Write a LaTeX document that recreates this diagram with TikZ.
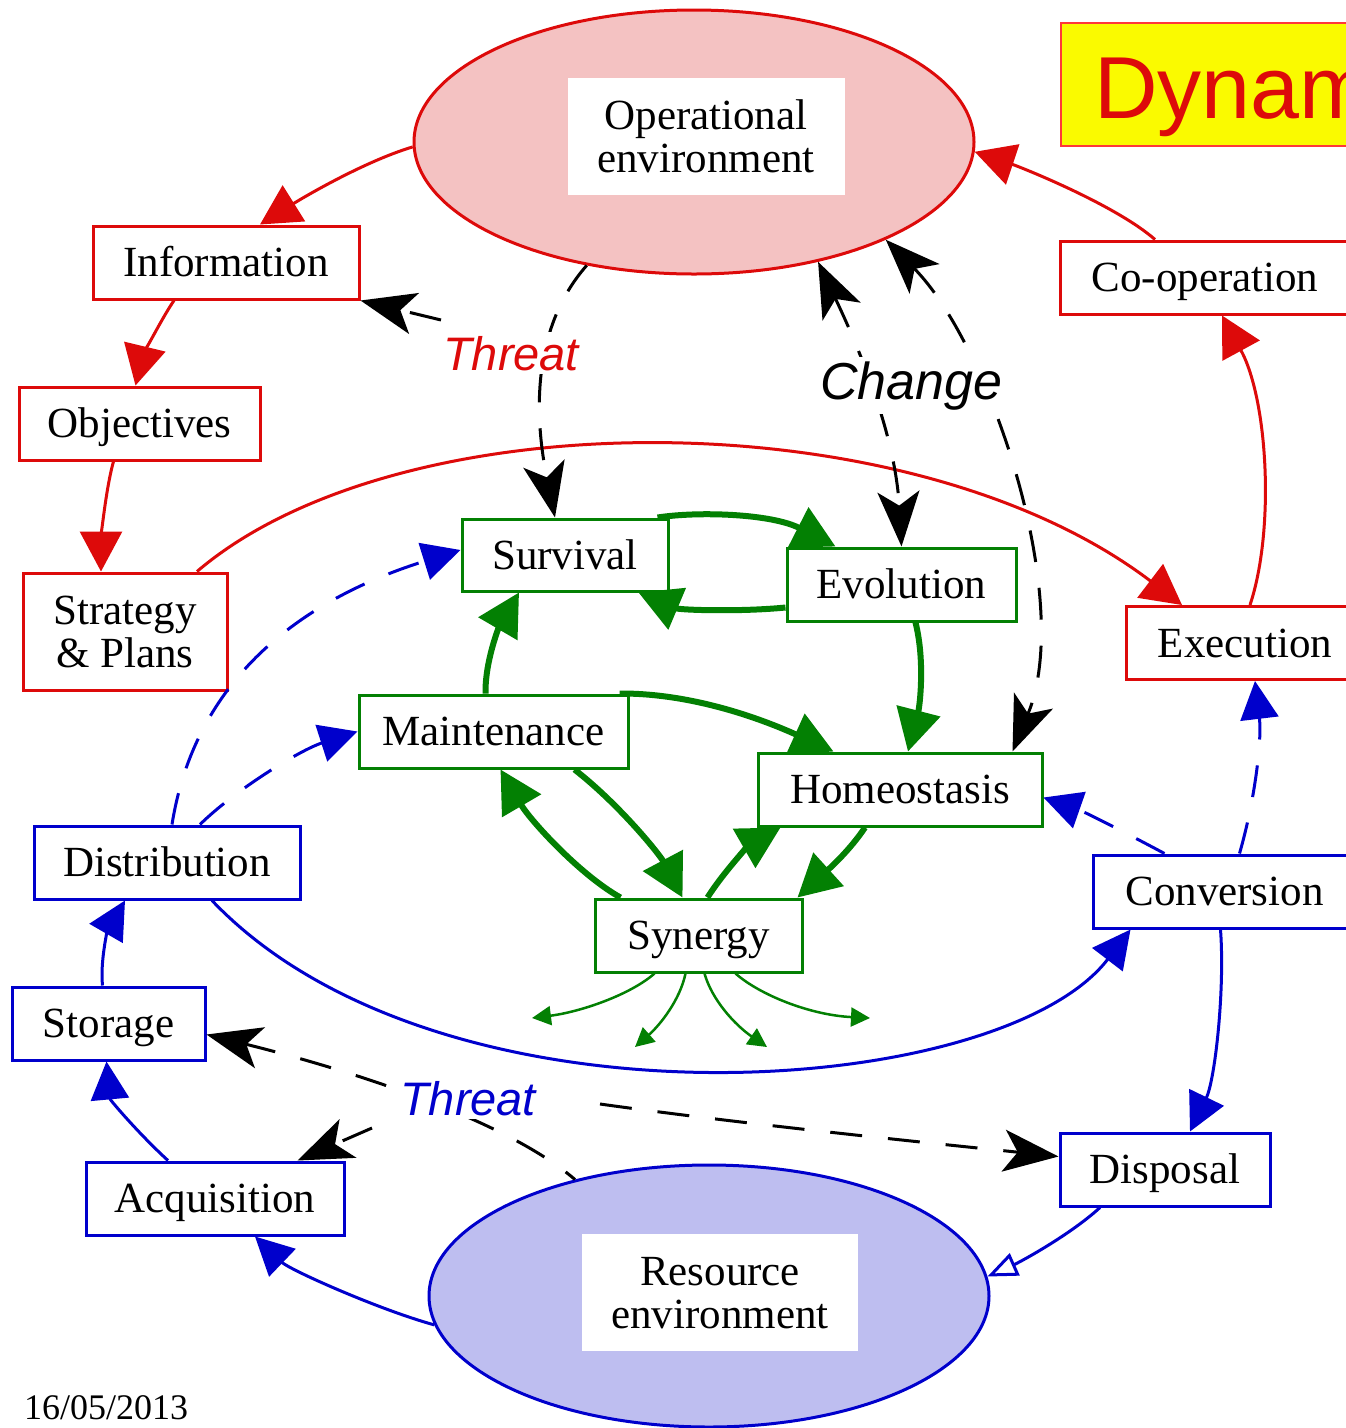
\documentclass[tikz,border=0pt]{standalone}
\usepackage{fontspec}
\usepackage{graphicx}
\setmainfont{Liberation Serif}
\newfontfamily\diagsans{Liberation Sans}
\usetikzlibrary{arrows.meta,shapes.geometric,calc}

\definecolor{envred}{HTML}{DD0A0A}
\definecolor{envpink}{HTML}{F4C2C2}
\definecolor{titleedge}{HTML}{FF3838}
\definecolor{titlefill}{HTML}{FAFA00}
\definecolor{sysgreen}{HTML}{038003}
\definecolor{resblue}{HTML}{0000CC}
\definecolor{reslav}{HTML}{BEBEF0}

\tikzset{
  txt/.style={font=\fontsize{43}{43}\selectfont, text height=28.5pt, text depth=0pt,
    align=center, inner sep=0pt},
  twolines/.style={text height=71.5pt, text depth=0pt},
  redbox/.style={txt, rectangle, draw=envred, line width=3pt, fill=white, minimum height=73pt},
  greenbox/.style={txt, rectangle, draw=sysgreen, line width=3pt, fill=white, minimum height=73pt},
  bluebox/.style={txt, rectangle, draw=resblue, line width=3pt, fill=white, minimum height=73pt},
  envtext/.style={txt, twolines, rectangle, fill=white, minimum width=277pt, minimum height=117pt},
  redline/.style={draw=envred, line width=3pt, -{Triangle[length=40pt,width=42pt]}},
  greenline/.style={draw=sysgreen, line width=6pt, -{Triangle[length=42pt,width=44pt]}},
  greenthin/.style={draw=sysgreen, line width=2.5pt, -{Triangle[length=19pt,width=19pt]}},
  blueline/.style={draw=resblue, line width=3pt, -{Triangle[length=38pt,width=38pt]}},
  bluedash/.style={blueline, dash pattern=on 32pt off 26pt},
  blkdash/.style={draw=black, line width=3pt, dash pattern=on 32pt off 26pt,
    -{Stealth[length=55pt,width=42pt,inset=14pt]}},
  blkboth/.style={draw=black, line width=3pt, dash pattern=on 32pt off 26pt,
    {Stealth[length=55pt,width=42pt,inset=14pt]}-{Stealth[length=55pt,width=42pt,inset=14pt]}},
  lbl/.style={fill=white, inner sep=4pt, anchor=base west}
}

\begin{document}
\begin{tikzpicture}[x=1pt,y=-1pt]
\useasboundingbox (0,0) rectangle (1346,1428);
\clip (0,0) rectangle (1346,1428);
\fill[white] (0,0) rectangle (1346,1428);

% title banner (runs off the right edge)
\node[draw=titleedge, line width=2pt, fill=titlefill, minimum width=320pt,
  minimum height=123pt, anchor=north west, inner sep=0pt] (title) at (1060,22) {};
\node[anchor=base west, inner sep=0pt, text=envred,
  font=\diagsans\fontsize{88}{88}\selectfont] (titletext) at (1094,118) {Dynamics};

% environments
\node[ellipse, draw=envred, fill=envpink, line width=3pt, minimum width=560pt,
  minimum height=264pt, inner sep=0pt] (opEnv) at (694,142) {};
\node[envtext] (opText) at (706,136.5) {Operational\\environment};
\node[ellipse, draw=resblue, fill=reslav, line width=3pt, minimum width=560pt,
  minimum height=262pt, inner sep=0pt] (resEnv) at (709,1296) {};
\node[envtext, minimum width=276pt] (resText) at (720,1292.5) {Resource\\environment};

% strategic loop
\node[redbox, minimum width=266pt] (info) at (226,262.5) {Information};
\node[redbox, minimum width=241pt] (obj) at (139.5,423.5) {Objectives};
\node[redbox, twolines, minimum width=204pt, minimum height=117pt] (strat) at (125,631.5) {Strategy\\\& Plans};
\node[redbox, minimum width=290pt] (coop) at (1205,277.5) {Co-operation};
\node[redbox, minimum width=238pt] (exec) at (1245,643) {Execution};

% system core
\node[greenbox, minimum width=206pt, minimum height=72pt] (surv) at (565,555) {Survival};
\node[greenbox, minimum width=229pt] (evol) at (901.5,584.5) {Evolution};
\node[greenbox, minimum width=269pt] (maint) at (493.5,731.5) {Maintenance};
\node[greenbox, minimum width=284pt] (homeo) at (900,789.5) {Homeostasis};
\node[greenbox, minimum width=207pt] (syn) at (698.5,935.5) {Synergy};

% resource loop
\node[bluebox, minimum width=266pt] (dist) at (167,862.5) {Distribution};
\node[bluebox, minimum width=193pt] (stor) at (108.5,1023.5) {Storage};
\node[bluebox, minimum width=258pt] (acq) at (215,1198.5) {Acquisition};
\node[bluebox, minimum width=263pt] (conv) at (1224.5,891.5) {Conversion};
\node[bluebox, minimum width=210pt] (disp) at (1165,1169.5) {Disposal};

% date
\node[anchor=base west, inner sep=0pt, font=\fontsize{36}{36}\selectfont] (date) at (24,1419) {16/05/2013};

% red connectors
\draw[redline] (opEnv.181) .. controls +(-50,15) and +(40,-25) .. ($(info.north)+(34,0)$);
\draw[redline] ($(info.south)+(-52,0)$) .. controls +(-15,22) and +(6,-25) .. ($(obj.north)+(-4,0)$);
\draw[redline] ($(obj.south)+(-26,0)$) .. controls +(-8,28) and +(0,-30) .. ($(strat.north)+(-24,0)$);
\draw[redline] ($(strat.north)+(72,0)$) .. controls (400,398) and (910,398) .. ($(exec.north)+(-63,0)$);
\draw[redline] ($(exec.north)+(5,0)$) .. controls (1275,530) and (1268,400) .. ($(coop.south)+(17,0)$);
\draw[redline] ($(coop.north)+(-50,0)$) .. controls +(-40,-35) and +(45,15) .. (opEnv.358);

% green connectors
\draw[greenline] ($(surv.north east)+(-12,0)$) .. controls (700,511) and (772,514) .. ($(evol.north west)+(50,0)$);
\draw[greenline] ($(evol.west)+(0,23)$) .. controls (740,612) and (680,610) .. ($(surv.south east)+(-31,0)$);
\draw[greenline] ($(maint.north)+(-8,0)$) .. controls (485,660) and (500,625) .. ($(surv.south)+(-46,0)$);
\draw[greenline] ($(maint.north east)+(-10,0)$) .. controls (700,693) and (775,725) .. ($(homeo.north west)+(77,0)$);
\draw[greenline] ($(evol.south)+(14,0)$) .. controls (925,660) and (920,705) .. ($(homeo.north)+(8,0)$);
\draw[greenline] ($(maint.south)+(81,0)$) .. controls (620,805) and (660,855) .. ($(syn.north)+(-16,0)$);
\draw[greenline] ($(syn.north west)+(27,0)$) .. controls (580,875) and (530,820) .. ($(maint.south west)+(143,0)$);
\draw[greenline] ($(syn.north)+(9,0)$) .. controls (725,870) and (750,845) .. ($(homeo.south west)+(24,0)$);
\draw[greenline] ($(homeo.south)+(-35,0)$) .. controls (850,850) and (830,868) .. ($(syn.north east)+(-6,0)$);

\coordinate (out1) at (532,1018);
\coordinate (out2) at (635,1047);
\coordinate (out3) at (767,1047);
\coordinate (out4) at (870,1018);
\draw[greenthin] ($(syn.south)+(-44,0)$) .. controls (630,995) and (580,1012) .. (out1);
\draw[greenthin] ($(syn.south)+(-13,0)$) .. controls (680,1000) and (660,1025) .. (out2);
\draw[greenthin] ($(syn.south)+(6,0)$) .. controls (712,1000) and (735,1025) .. (out3);
\draw[greenthin] ($(syn.south)+(37,0)$) .. controls (760,995) and (810,1015) .. (out4);

% blue connectors
\draw[blueline] (resEnv.186) .. controls (380,1310) and (290,1270) .. ($(acq.south)+(40,0)$);
\draw[blueline] ($(acq.north)+(-47,0)$) .. controls (140,1135) and (110,1100) .. ($(stor.south)+(-2,0)$);
\draw[blueline] ($(stor.north)+(-6,0)$) .. controls (100,960) and (108,930) .. ($(dist.south)+(-42,0)$);
\draw[blueline] ($(dist.south)+(45,0)$) .. controls (440,1140) and (1000,1100) .. ($(conv.south)+(-94,0)$);
\draw[blueline] ($(conv.south)+(-4,0)$) .. controls (1225,990) and (1215,1080) .. ($(disp.north)+(25,0)$);
\draw[draw=resblue, line width=3pt, -{Triangle[open,length=30pt,width=24pt,fill=white]}]
  ($(disp.south)+(-65,0)$) .. controls (1070,1235) and (1020,1262) .. (resEnv.4);

\draw[bluedash] ($(dist.north)+(5,0)$) .. controls (195,680) and (300,600) .. ($(surv.west)+(0,-5)$);
\draw[bluedash] ($(dist.north)+(33,0)$) .. controls (235,790) and (300,750) .. (maint.west);
\draw[bluedash] ($(conv.north)+(-60,0)$) .. controls (1130,835) and (1085,812) .. ($(homeo.east)+(0,8)$);
\draw[bluedash] ($(conv.north)+(15,0)$) .. controls (1255,800) and (1262,740) .. ($(exec.south)+(10,0)$);

% threats and change
\coordinate (thrRin) at (441,320);
\draw[blkdash] (opEnv.229) .. controls (530,330) and (535,420) .. ($(surv.north)+(-10,0)$);
\draw[blkdash] (thrRin) -- (info.south east);
\draw[blkboth] (opEnv.316) .. controls (855,340) and (895,430) .. (evol.north);
\draw[blkboth] (opEnv.333) .. controls (990,345) and (1075,600) .. ($(homeo.north east)+(-31,0)$);

\coordinate (thrBacq) at (372,1128);
\coordinate (thrBdis) at (600,1104);
\draw[blkdash, dash phase=20pt] (resEnv.139) .. controls (500,1115) and (330,1065) .. ($(stor.east)+(0,11)$);
\draw[blkdash] (thrBacq) -- ($(acq.north east)+(-48,0)$);
\draw[blkdash] (thrBdis) .. controls (750,1125) and (950,1145) .. ($(disp.west)+(0,-13)$);

\node[lbl, text=envred, font=\diagsans\itshape\fontsize{47}{47}\selectfont] (thrR) at (439,370) {Threat};
\node[lbl, font=\diagsans\itshape\fontsize{52}{52}\selectfont] (chg) at (816,399) {Change};
\node[lbl, text=resblue, font=\diagsans\itshape\fontsize{47}{47}\selectfont] (thrB) at (396,1115) {Threat};
\end{tikzpicture}
\end{document}
